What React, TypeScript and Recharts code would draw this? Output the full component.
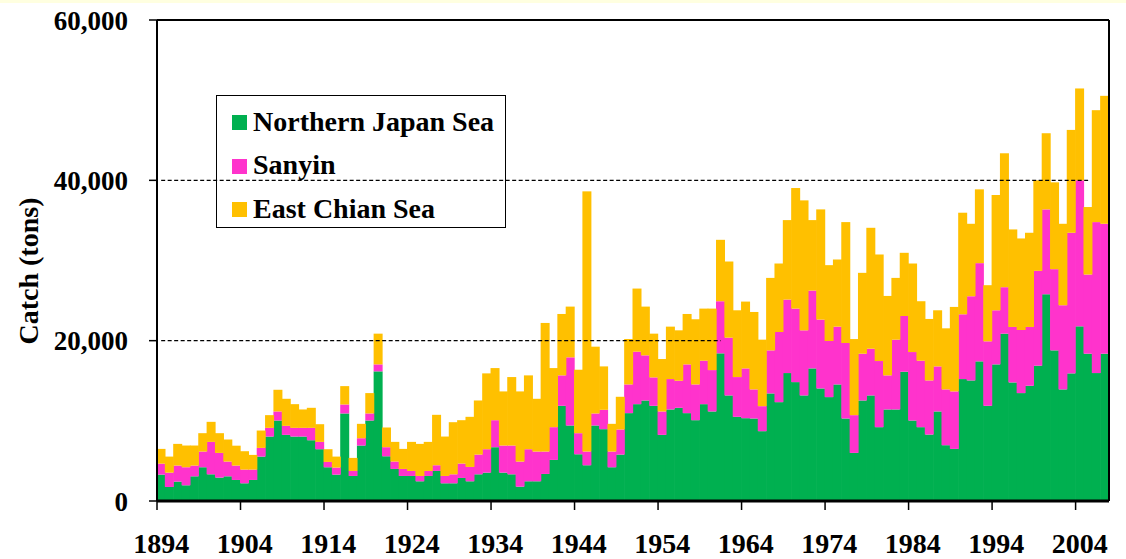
import React from "react";
import { Bar, BarChart, Legend, ReferenceLine, XAxis, YAxis } from "recharts";

// yearly catch (tons), 1894-2007
const years = Array.from({ length: 114 }, (_, i) => String(1894 + i));

const northern = [
  3290, 1750, 2420, 1960, 3080, 4210, 3330, 2920, 3080, 2625,
  2210, 2625, 5540, 8040, 10040, 8250, 8040, 8040, 7580, 6460,
  4210, 3290, 10920, 3125, 6920, 10040, 16170, 5580, 4000, 3125,
  3125, 2460, 3125, 3750, 2210, 2210, 2875, 2460, 3330, 3540,
  6710, 3540, 3330, 1790, 2460, 2460, 3375, 5125, 11875, 9420,
  5830, 4460, 9420, 8960, 4210, 5790, 10960, 12080, 12540, 11875,
  8250, 11420, 11625, 10960, 10080, 12080, 11170, 18420, 13170, 10500,
  10330, 10290, 8710, 13420, 12330, 15960, 14830, 13170, 16540, 14040,
  12960, 14540, 10290, 6000, 12540, 13170, 9210, 11420, 11420, 16125,
  10040, 9210, 8290, 11170, 6960, 6500, 15210, 15040, 17420, 11875,
  17040, 20875, 14790, 13460, 14375, 16875, 25790, 18790, 13920, 15920,
  21790, 18375, 15960, 18375,
];

const sanyin = [
  1370, 1790, 2000, 2250, 1340, 1960, 4045, 3080, 1840, 1795,
  1710, 1295, 1085, 1085, 1130, 1125, 1085, 1085, 1545, 915,
  665, 880, 1120, 625, 910, 880, 870, 1130, 920, 875,
  625, 665, 625, 710, 915, 1120, 1795, 1790, 2460, 2920,
  3370, 3380, 3590, 3130, 4000, 3710, 2795, 4085, 3795, 8500,
  2630, 1710, 1500, 2415, 1960, 3130, 3580, 6545, 5630, 3545,
  2920, 3790, 3375, 6080, 4460, 5420, 5160, 6500, 7205, 4960,
  6210, 3630, 3120, 5370, 8750, 9165, 9170, 8120, 9710, 8585,
  7000, 7210, 9420, 4710, 5835, 5830, 8250, 4250, 8705, 6955,
  8540, 8290, 6750, 5620, 6960, 7170, 8080, 10500, 12250, 8045,
  6750, 5795, 6920, 7870, 7335, 11835, 10585, 10130, 10500, 17540,
  18210, 9875, 18830, 16205,
];

const eastChina = [
  1840, 2000, 2705, 2710, 2500, 2290, 2500, 2460, 2750, 2480,
  2290, 1830, 2165, 1585, 2705, 3375, 2955, 2295, 2500, 2205,
  1585, 1370, 2290, 1625, 1795, 2540, 3835, 2460, 2455, 2500,
  3625, 4000, 3625, 6290, 4915, 6500, 5410, 6250, 6750, 9460,
  6500, 6750, 8540, 8750, 9210, 6580, 16040, 7370, 7660, 6330,
  7915, 32455, 8330, 5415, 3455, 4080, 5670, 7875, 6080, 5455,
  6540, 6540, 6290, 6290, 8130, 6500, 7670, 7660, 9500, 8330,
  8335, 9660, 8295, 9040, 8545, 9915, 15040, 16210, 8790, 13750,
  9460, 8375, 15080, 9490, 10085, 15080, 13290, 9910, 7705, 7880,
  11045, 7420, 7670, 7000, 7620, 10540, 12670, 9040, 9205, 7000,
  14380, 16705, 12165, 11420, 11750, 11290, 9500, 10830, 10160, 12830,
  11460, 8420, 13960, 15960,
];

const yTicks = [0, 20000, 40000, 60000];

const series = [
  { key: "northern", name: "Northern Japan Sea", color: "#00B050" },
  { key: "sanyin", name: "Sanyin", color: "#FF33CC" },
  { key: "eastChina", name: "East Chian Sea", color: "#FFC000" },
];

const rows = years.map((year, i) => ({
  year,
  northern: northern[i],
  sanyin: sanyin[i],
  eastChina: eastChina[i],
}));

const W = 1126;
const H = 559;
const MARGIN = { top: 20, right: 16, bottom: 0, left: 0 };
const Y_AXIS_W = 157;
const X_AXIS_H = 58;
const PLOT_W = W - MARGIN.left - MARGIN.right - Y_AXIS_W - 1;
const BAND = PLOT_W / years.length;
const FONT = '"Liberation Serif", "Times New Roman", serif';

function YearTick({ x, y, payload }: any) {
  // tick marks sit on the category boundaries, labels on the centres
  const half = BAND / 2;
  return (
    <g>
      <line x1={x - half} x2={x - half} y1={y} y2={y + 9} stroke="#000" strokeWidth={1.5} />
      <text
        x={x}
        y={y + 52}
        textAnchor="middle"
        fill="#000"
        fontFamily={FONT}
        fontWeight="bold"
        fontSize={28}
      >
        {payload.value}
      </text>
    </g>
  );
}

// recharts floors the bar width, so widen each block to close the hairline gaps
function SolidBlock({ x, y, width, height, fill }: any) {
  if (!height || height <= 0) return null;
  return <rect x={x - 0.5} y={y} width={width + 1} height={height} fill={fill} />;
}

function AxisTitle() {
  return (
    <text
      x={38}
      y={271}
      transform="rotate(-90, 38, 271)"
      textAnchor="middle"
      fill="#000"
      fontFamily={FONT}
      fontWeight="bold"
      fontSize={28}
    >
      Catch (tons)
    </text>
  );
}

function LegendBox() {
  return (
    <div
      style={{
        boxSizing: "border-box",
        width: "100%",
        height: "100%",
        border: "1.5px solid #000",
        paddingTop: 4,
        paddingLeft: 15,
        fontFamily: FONT,
        fontWeight: "bold",
        fontSize: 28,
        color: "#000",
      }}
    >
      {series.map((s) => (
        <div key={s.key} style={{ display: "flex", alignItems: "center", height: 43.5 }}>
          <span
            style={{ width: 15, height: 15, background: s.color, marginRight: 6, marginTop: 2 }}
          />
          <span style={{ lineHeight: 1 }}>{s.name}</span>
        </div>
      ))}
    </div>
  );
}

export default function App() {
  return (
    <div style={{ position: "absolute", left: 0, top: 0, width: W, height: H, background: "#fff" }}>
      <div style={{ position: "absolute", left: 0, top: 0, width: W, height: 3, background: "#FFFFE0" }} />
      <BarChart
        width={W}
        height={H}
        data={rows}
        margin={MARGIN}
        barCategoryGap={0}
        barGap={0}
      >
        <XAxis
          dataKey="year"
          height={X_AXIS_H}
          interval={9}
          tickSize={0}
          tickMargin={0}
          tickLine={false}
          axisLine={{ stroke: "#000", strokeWidth: 3 }}
          tick={<YearTick />}
        />
        <YAxis
          width={Y_AXIS_W}
          domain={[0, 60000]}
          ticks={yTicks}
          interval={0}
          tickSize={8}
          tickMargin={21}
          axisLine={{ stroke: "#000", strokeWidth: 2 }}
          tickLine={{ stroke: "#000", strokeWidth: 1.5 }}
          tick={{ fill: "#000", fontSize: 27, fontFamily: FONT, fontWeight: "bold" }}
          tickFormatter={(v: number) => v.toLocaleString("en-US")}
          label={AxisTitle}
        />
        <YAxis
          yAxisId="frame"
          orientation="right"
          width={1}
          domain={[0, 60000]}
          tick={false}
          tickLine={false}
          axisLine={{ stroke: "#000", strokeWidth: 2 }}
        />
        {series.map((s) => (
          <Bar
            key={s.key}
            dataKey={s.key}
            name={s.name}
            stackId="catch"
            fill={s.color}
            shape={<SolidBlock />}
            isAnimationActive={false}
          />
        ))}
        <ReferenceLine y={60000} stroke="#000" strokeWidth={2} />
        <ReferenceLine
          segment={[
            { x: "1894", y: 20000 },
            { x: "1961", y: 20000 },
          ]}
          stroke="#000"
          strokeWidth={1.2}
          strokeDasharray="4 2.5"
        />
        <ReferenceLine
          segment={[
            { x: "1894", y: 40000 },
            { x: "2005", y: 40000 },
          ]}
          stroke="#000"
          strokeWidth={1.2}
          strokeDasharray="4 2.5"
        />
        <Legend
          layout="vertical"
          align="center"
          verticalAlign="middle"
          wrapperStyle={{ left: 216, top: 95, width: 290, height: 133 }}
          content={<LegendBox />}
        />
      </BarChart>
    </div>
  );
}
